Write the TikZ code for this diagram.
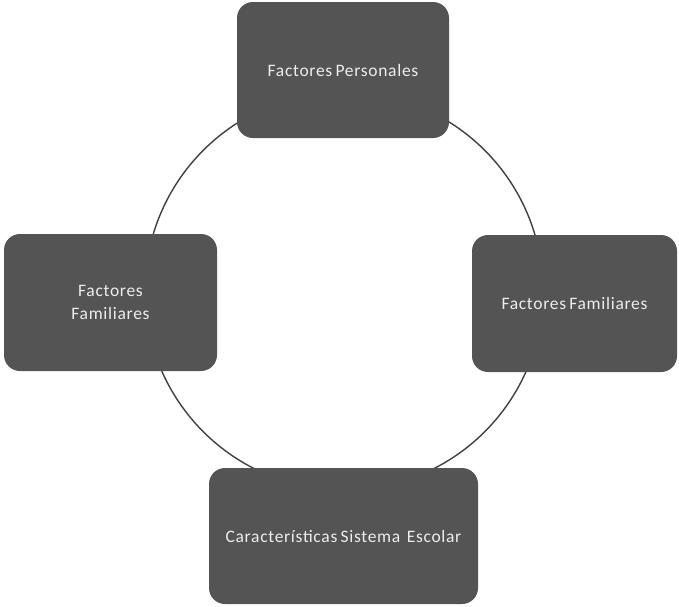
\documentclass[tikz,border=0pt]{standalone}
\usepackage{fontspec}
\setmainfont[LetterSpace=4,WordSpace=0.7]{Carlito}
\definecolor{boxfill}{HTML}{545454}
\definecolor{ringcol}{HTML}{404040}
\definecolor{txtcol}{HTML}{EDEDED}
\begin{document}
\begin{tikzpicture}[x=1pt,y=-1pt,
  factor/.style={draw=none,fill=boxfill,rounded corners=16pt,inner sep=0pt,
     text=txtcol,font=\fontsize{17.5}{23}\selectfont,align=center},
  ring/.style={draw=ringcol,line width=1.4pt,circle,inner sep=0pt,minimum size=398pt}]
\useasboundingbox (0,0) rectangle (679,606);
\node[ring] (ring) at (344,291) {};
\node[factor,minimum width=212pt,minimum height=136pt] (personal) at (343,70) {Factores Personales};
\node[factor,minimum width=213pt,minimum height=137pt] (famleft) at (110.5,302.5) {Factores\\Familiares};
\node[factor,minimum width=205pt,minimum height=137pt] (famright) at (574.5,303.5) {Factores Familiares};
\node[factor,minimum width=269pt,minimum height=136pt] (escolar) at (343.5,536) {Características Sistema\ \ Escolar};
\end{tikzpicture}
\end{document}
